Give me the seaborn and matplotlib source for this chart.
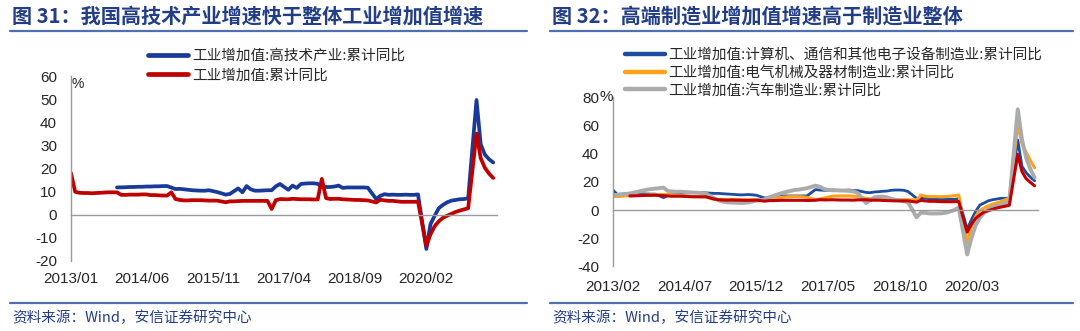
import numpy as np
import pandas as pd
import matplotlib
matplotlib.use("Agg")
import matplotlib.pyplot as plt
import seaborn as sns
from matplotlib.lines import Line2D

nan = np.nan

# ---------------- Left chart data (monthly, 2013/01 .. 2021/06) ----------------
left_ticklabels = ["2013/01", "2014/06", "2015/11", "2017/04", "2018/09", "2020/02"]
hitech = (
    [nan] * 11 + [11.8] +
    [nan, 11.9, 12.0, 12.0, 12.1, 12.1, 12.2, 12.2, 12.3, 12.3, 12.4, 12.4] +
    [nan, 11.1, 11.2, 11.0, 10.8, 10.6, 10.5, 10.4, 10.4, 10.6, 10.2, 9.8] +
    [nan, 8.7, 9.0, 10.2, 11.4, 9.7, 12.4, 11.0, 10.4, 10.4, 10.5, 10.6] +
    [10.6, 12.3, 13.3, 12.0, 10.8, 12.6, 11.6, 13.3, 13.5, 13.6, 13.6, 13.4] +
    [12.0, 12.0, 12.0, 12.2, 12.6, 11.6, 11.8, 11.8, 11.8, 11.8, 11.8, 11.7] +
    [nan, 6.8, 8.2, 8.9, 8.6, 8.7, 8.6, 8.6, 8.7, 8.6, 8.6, 8.8] +
    [nan, -14.8, -4.0, -0.4, 2.9, 4.3, 5.4, 6.1, 6.4, 6.7, 6.8, 7.1] +
    [nan, 49.6, 30.5, 26.0, 24.0, 22.6]
)
industry = (
    [18.0, 9.9, 9.5, 9.4, 9.4, 9.3, 9.4, 9.5, 9.6, 9.7, 9.7, 9.7] +
    [8.6, 8.6, 8.7, 8.7, 8.7, 8.8, 8.8, 8.5, 8.5, 8.4, 8.3, 8.3] +
    [9.7, 6.8, 6.4, 6.2, 6.2, 6.3, 6.3, 6.3, 6.2, 6.1, 6.1, 6.1] +
    [nan, 5.4, 5.8, 5.8, 5.9, 6.0, 6.0, 6.0, 6.0, 6.0, 6.0, 6.0] +
    [2.5, 6.3, 6.8, 6.7, 6.7, 6.9, 6.8, 6.7, 6.7, 6.7, 6.6, 6.6] +
    [15.5, 7.2, 6.8, 6.9, 6.9, 6.7, 6.6, 6.5, 6.4, 6.4, 6.3, 6.2] +
    [nan, 5.3, 6.5, 6.2, 6.0, 6.0, 5.8, 5.6, 5.6, 5.6, 5.6, 5.7] +
    [nan, -13.5, -8.4, -4.9, -2.8, -1.3, -0.4, 0.4, 1.2, 1.8, 2.3, 2.8] +
    [nan, 35.1, 24.5, 20.3, 17.8, 15.9]
)
left_labels = ["工业增加值:高技术产业:累计同比", "工业增加值:累计同比"]

# ---------------- Right chart data (monthly, 2013/02 .. 2021/06) ----------------
right_ticklabels = ["2013/02", "2014/07", "2015/12", "2017/05", "2018/10", "2020/03"]
electronics = (
    [14.2, 11.1, 11.3, 11.5, 11.6, 11.5, 11.4, 11.5, 11.4, 11.3, 11.3] +
    [nan, 8.8, 10.5, 11.0, 11.4, 11.8, 12.0, 12.2, 12.3, 12.3, 12.3, 12.2] +
    [nan, 11.8, 11.8, 11.6, 11.4, 11.2, 11.0, 10.8, 10.8, 11.0, 10.8, 10.5] +
    [nan, 8.5, 9.0, 9.5, 9.7, 9.9, 10.0, 10.0, 10.0, 10.0, 10.0, 10.0] +
    [nan, 14.5, 14.2, 14.0, 14.0, 14.2, 14.0, 14.0, 14.0, 14.2, 13.8, 13.8] +
    [nan, 12.5, 12.3, 12.8, 13.0, 13.3, 13.5, 14.0, 14.2, 14.2, 14.0, 13.1] +
    [nan, 8.3, 8.4, 8.5, 8.0, 7.8, 7.5, 7.4, 7.5, 7.6, 7.6, 8.0] +
    [nan, -13.5, -7.0, -1.0, 3.5, 5.0, 6.5, 7.3, 7.8, 8.3, 8.3, 8.5] +
    [nan, 49.7, 31.0, 26.5, 23.3, 20.8]
)
electrical = (
    [9.5, 9.6, 9.8, 10.0, 10.2, 10.3, 10.4, 10.5, 10.6, 10.8, 10.9] +
    [nan, 11.0, 11.0, 10.8, 10.5, 10.2, 10.0, 9.8, 9.6, 9.5, 9.4, 9.4] +
    [nan, 7.5, 7.6, 7.5, 7.4, 7.5, 7.4, 7.3, 7.2, 7.2, 7.3, 7.3] +
    [nan, 7.5, 8.0, 8.3, 8.6, 9.0, 9.3, 9.5, 9.6, 9.5, 9.4, 9.0] +
    [nan, 7.5, 7.8, 8.5, 9.2, 9.8, 10.0, 10.0, 10.0, 10.0, 9.8, 9.5] +
    [nan, 8.3, 8.0, 7.8, 7.6, 7.5, 7.5, 7.4, 7.3, 7.3, 7.3, 7.3] +
    [nan, 7.1, 10.6, 9.8, 9.5, 9.5, 9.5, 9.5, 9.6, 9.8, 10.2, 10.7] +
    [nan, -23.5, -12.0, -4.5, -0.5, 1.5, 3.0, 4.2, 5.0, 6.0, 7.2, 8.5] +
    [nan, 60.5, 47.0, 41.0, 35.0, 30.0]
)
auto = (
    [10.6, 10.8, 11.0, 11.4, 11.8, 12.4, 13.0, 13.8, 14.4, 14.9, 15.2] +
    [nan, 15.9, 13.5, 13.2, 13.0, 13.0, 12.8, 12.6, 12.4, 12.3, 12.0, 11.8] +
    [nan, 8.3, 7.0, 6.0, 5.5, 5.3, 5.2, 5.0, 5.0, 5.4, 6.0, 6.7] +
    [nan, 7.5, 9.0, 10.0, 11.0, 12.0, 12.8, 13.5, 14.2, 14.5, 15.0, 15.5] +
    [nan, 17.3, 16.6, 15.0, 14.3, 14.0, 14.0, 13.8, 13.8, 13.6, 13.2, 12.2] +
    [nan, 5.0, 7.0, 9.0, 9.5, 9.5, 9.0, 8.0, 7.3, 6.8, 6.2, 5.5] +
    [nan, -5.2, -1.9, -2.0, -2.4, -2.5, -2.4, -2.3, -1.9, -1.0, 0.0, 1.8] +
    [nan, -31.5, -20.0, -11.0, -5.5, -2.0, 0.5, 2.0, 3.0, 3.6, 4.8, 6.2] +
    [nan, 71.5, 50.0, 37.0, 29.0, 23.0]
)
manufacturing = (
    [nan, nan, nan, nan, 10.0, 10.1, 10.2, 10.3, 10.4, 10.4, 10.5] +
    [nan, 10.2, 10.0, 9.8, 9.8, 9.8, 9.7, 9.5, 9.4, 9.4, 9.4, 9.4] +
    [nan, 7.8, 7.3, 7.1, 7.0, 7.1, 7.0, 7.0, 6.9, 6.9, 6.9, 7.0] +
    [nan, 6.3, 6.7, 6.7, 6.8, 6.9, 6.9, 6.9, 6.9, 6.9, 6.9, 6.8] +
    [nan, 6.9, 7.3, 7.2, 7.2, 7.3, 7.2, 7.1, 7.1, 7.1, 7.0, 7.2] +
    [nan, 7.3, 7.0, 7.0, 7.0, 6.8, 6.7, 6.6, 6.5, 6.5, 6.5, 6.5] +
    [nan, 5.6, 6.9, 6.5, 6.2, 6.2, 6.1, 5.9, 5.9, 5.9, 5.9, 6.0] +
    [nan, -15.7, -10.2, -6.0, -3.5, -1.4, -0.5, 0.5, 1.4, 2.1, 2.7, 3.4] +
    [nan, 39.5, 27.3, 22.2, 19.6, 17.2]
)
right_labels = ["工业增加值:计算机、通信和其他电子设备制造业:累计同比",
                "工业增加值:电气机械及器材制造业:累计同比",
                "工业增加值:汽车制造业:累计同比"]

# ---------------- Style ----------------
sns.set_theme(style="white")
plt.rcParams["font.family"] = ["Liberation Sans", "Noto Sans CJK SC", "DejaVu Sans"]
plt.rcParams["axes.unicode_minus"] = False

W, H = 1080, 331
fig = plt.figure(figsize=(W / 100, H / 100), dpi=100)
fig.patch.set_facecolor("white")

def fx(x):
    return x / W

def fy(y):
    return 1 - y / H

AXIS_GRAY = "#9A9A9A"
TEXT = "#262626"
TITLE_C = "#233E86"
RULE_C = "#4F6FB0"
CJK = ["Noto Sans CJK SC", "DejaVu Sans"]


def draw(ax, values, color, lw):
    d = pd.DataFrame({"x": np.arange(len(values)), "y": values}).dropna()
    sns.lineplot(data=d, x="x", y="y", ax=ax, color=color, linewidth=lw,
                 estimator=None, sort=False, legend=False,
                 solid_joinstyle="round", solid_capstyle="round")


def style_axes(ax, ymin, ymax, ystep, xmax, ticklabels, xpad):
    ax.set_ylim(ymin, ymax)
    ax.set_xlim(0, xmax)
    ax.set_xlabel("")
    ax.set_ylabel("")
    ax.set_facecolor("white")
    for s in ["top", "right"]:
        ax.spines[s].set_visible(False)
    ax.spines["left"].set_color(AXIS_GRAY)
    ax.spines["left"].set_linewidth(1.0)
    ax.spines["bottom"].set_position(("data", 0))
    ax.spines["bottom"].set_color(AXIS_GRAY)
    ax.spines["bottom"].set_linewidth(1.0)
    yt = np.arange(ymin, ymax + ystep / 2, ystep)
    ax.set_yticks(yt)
    ax.set_yticklabels([f"{int(v)}" for v in yt])
    ax.tick_params(axis="y", direction="in", length=4, width=1, color=AXIS_GRAY,
                   labelsize=11, labelcolor=TEXT, pad=10)
    xt = list(np.arange(0, 17 * len(ticklabels), 17)) + [xmax]
    ax.set_xticks(xt)
    ax.tick_params(axis="x", direction="out", length=4, width=1, color=AXIS_GRAY,
                   labelbottom=False)
    sec = ax.secondary_xaxis("bottom")
    sec.set_xticks(list(np.arange(0, 17 * len(ticklabels), 17)), ticklabels)
    sec.tick_params(length=0, labelsize=11, labelcolor=TEXT, pad=xpad)
    sec.spines["bottom"].set_visible(False)


# ---------------- Left chart ----------------
axL = fig.add_axes([fx(71), fy(261), fx(497) - fx(71), fy(76) - fy(261)])
draw(axL, hitech, "#1A3A9A", 2.7)
draw(axL, industry, "#C00000", 2.7)
style_axes(axL, -20, 60, 10, 101.9, left_ticklabels, 8)
fig.text(fx(71), fy(84), "%", fontsize=10, color=TEXT, ha="left", va="center")

hL = [Line2D([], [], color="#1A3A9A", lw=3.4), Line2D([], [], color="#C00000", lw=3.4)]
axL.legend(hL, left_labels, loc="upper left", bbox_to_anchor=(fx(148), fy(49)),
           bbox_transform=fig.transFigure, frameon=False, borderaxespad=0, borderpad=0,
           handlelength=2.75, handletextpad=0.3, labelspacing=0.38,
           prop={"family": CJK, "size": 10.5}, labelcolor=TEXT)

# ---------------- Right chart ----------------
axR = fig.add_axes([fx(613), fy(266.4), fx(1038) - fx(613), fy(97.3) - fy(266.4)])
draw(axR, electronics, "#1C4C9E", 2.0)
draw(axR, electrical, "#FFA11A", 2.2)
draw(axR, auto, "#ABABAB", 2.8)
draw(axR, manufacturing, "#C00000", 2.2)
style_axes(axR, -40, 80, 20, 100.8, right_ticklabels, 9.5)
fig.text(fx(599), fy(97.3), "%", fontsize=11, color=TEXT, ha="left", va="center")

hR = [Line2D([], [], color="#1C4C9E", lw=3.2), Line2D([], [], color="#FFA11A", lw=3.2),
      Line2D([], [], color="#ABABAB", lw=3.2)]
axR.legend(hR, right_labels, loc="upper left", bbox_to_anchor=(fx(625), fy(48)),
           bbox_transform=fig.transFigure, frameon=False, borderaxespad=0, borderpad=0,
           handlelength=2.75, handletextpad=0.2, labelspacing=0.25,
           prop={"family": CJK, "size": 10.5}, labelcolor=TEXT)

# ---------------- Titles, rules and sources ----------------
for x0, x1, title in [(10, 527, "图 31：我国高技术产业增速快于整体工业增加值增速"),
                      (550, 1073, "图 32：高端制造业增加值增速高于制造业整体")]:
    fig.text(fx(x0 + 2), fy(16), title, fontsize=14.5, fontweight="bold", color=TITLE_C,
             ha="left", va="center", family=CJK)
    fig.add_artist(Line2D([fx(x0), fx(x1)], [fy(31), fy(31)], color=RULE_C, lw=1.6))
    fig.add_artist(Line2D([fx(x0), fx(x1)], [fy(303), fy(303)], color=RULE_C, lw=1.6))
    fig.text(fx(x0 + 2), fy(318), "资料来源：Wind，安信证券研究中心", fontsize=10.5,
             color=TITLE_C, ha="left", va="center", family=CJK, style="italic")

fig.savefig("out.png", dpi=100, facecolor="white")
